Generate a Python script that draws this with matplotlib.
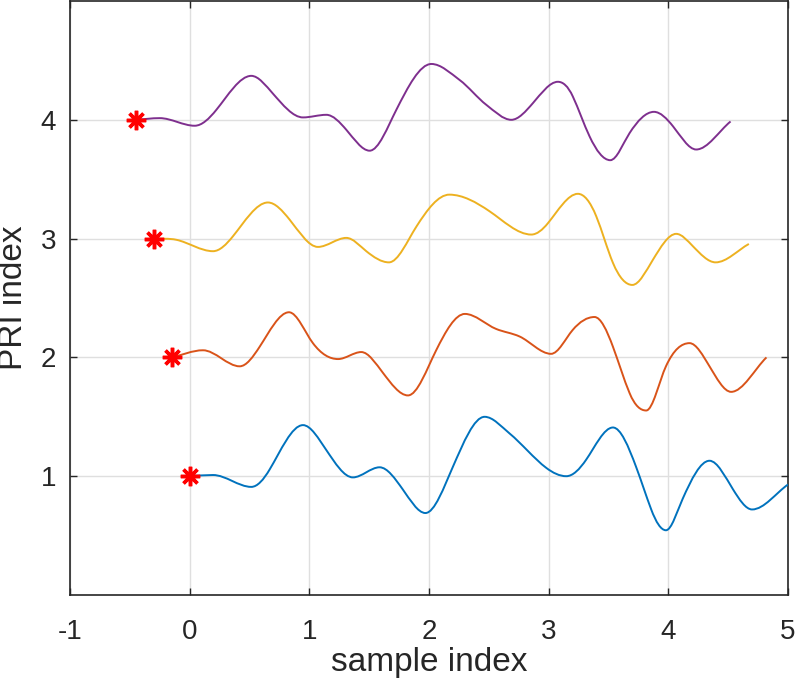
import numpy as np
import matplotlib
matplotlib.use('Agg')
import matplotlib.pyplot as plt
from matplotlib.path import Path
from matplotlib.patches import PathPatch

# Curve samples (sample index, PRI index)
blue_x = [0.0, 0.195, 0.515, 0.668, 0.947, 1.142, 1.364, 1.587, 1.78, 1.97, 2.2, 2.465, 2.673,
          2.98, 3.147, 3.314, 3.537, 3.73, 3.857, 3.98, 4.12, 4.344, 4.54, 4.70, 5.0]
blue_y = [1.0, 1.01, 0.91, 1.056, 1.43, 1.22, 0.99, 1.075, 0.89, 0.69, 1.08, 1.50, 1.36,
          1.07, 1.0, 1.14, 1.41, 1.08, 0.72, 0.545, 0.81, 1.13, 0.89, 0.72, 0.93]

orange_x = [-0.15, 0.111, 0.418, 0.585, 0.83, 1.03, 1.24, 1.434, 1.615, 1.824, 2.06, 2.30, 2.56,
            2.757, 3.02, 3.2, 3.383, 3.537, 3.676, 3.815, 3.98, 4.177, 4.344, 4.525, 4.82]
orange_y = [2.0, 2.06, 1.925, 2.09, 2.38, 2.12, 1.986, 2.045, 1.87, 1.68, 2.06, 2.366, 2.24,
            2.176, 2.03, 2.23, 2.34, 2.09, 1.70, 1.553, 1.925, 2.12, 1.925, 1.71, 2.0]

yellow_x = [-0.30, -0.111, 0.195, 0.362, 0.654, 0.835, 1.072, 1.309, 1.476, 1.665, 1.894, 2.17,
            2.506, 2.855, 2.994, 3.244, 3.398, 3.537, 3.699, 3.87, 4.066, 4.205, 4.395, 4.673]
yellow_y = [3.0, 2.99, 2.894, 3.02, 3.304, 3.16, 2.93, 3.006, 2.894, 2.80, 3.10, 3.37,
            3.23, 3.034, 3.13, 3.377, 3.187, 2.796, 2.61, 2.82, 3.04, 2.936, 2.80, 2.955]

purple_x = [-0.45, -0.25, 0.042, 0.223, 0.515, 0.696, 0.947, 1.142, 1.309, 1.504, 1.727, 2.02,
            2.256, 2.479, 2.688, 2.868, 3.077, 3.202, 3.342, 3.515, 3.676, 3.88, 4.04, 4.233, 4.52]
purple_y = [4.0, 4.014, 3.95, 4.084, 4.37, 4.22, 4.02, 4.042, 3.916, 3.74, 4.084, 4.47,
            4.335, 4.126, 4.0, 4.14, 4.32, 4.196, 3.86, 3.66, 3.888, 4.067, 3.944, 3.75, 3.986]

xticks = [-1, 0, 1, 2, 3, 4, 5]
yticks = [1, 2, 3, 4]

series = [(blue_x, blue_y, '#0072BD'),
          (orange_x, orange_y, '#D95319'),
          (yellow_x, yellow_y, '#EDB120'),
          (purple_x, purple_y, '#7E2F8E')]


def smooth_path(xs, ys):
    # cubic Bezier path through the read points
    xs = np.asarray(xs, float)
    ys = np.asarray(ys, float)
    n = len(xs)
    d = np.diff(ys) / np.diff(xs)
    ext = np.zeros(n, bool)
    ext[1:-1] = d[:-1] * d[1:] <= 0
    m = np.zeros(n)
    m[0], m[-1] = d[0], d[-1]
    for i in range(1, n - 1):
        if ext[i]:
            m[i] = 0
            continue
        m[i] = (ys[i + 1] - ys[i - 1]) / (xs[i + 1] - xs[i - 1])
        # points on the steep flanks: chord slope is too shallow
        if ext[i - 1] and ext[i + 1]:
            m[i] *= 1.4
        elif (ext[i - 1] or ext[i + 1]) and abs(m[i]) > 1.5:
            m[i] *= 1.25
    verts = [(xs[0], ys[0])]
    codes = [Path.MOVETO]
    for i in range(n - 1):
        h = xs[i + 1] - xs[i]
        verts += [(xs[i] + h / 3, ys[i] + m[i] * h / 3),
                  (xs[i + 1] - h / 3, ys[i + 1] - m[i + 1] * h / 3),
                  (xs[i + 1], ys[i + 1])]
        codes += [Path.CURVE4] * 3
    return Path(verts, codes)


plt.rcParams['font.family'] = ['Liberation Sans', 'DejaVu Sans']

fig = plt.figure(figsize=(7.97, 6.93), dpi=100)
ax = fig.add_axes([70 / 797, 1 - 595 / 693, 718 / 797, 594 / 693])

for xs, ys, col in series:
    ax.add_patch(PathPatch(smooth_path(xs, ys), fill=False, edgecolor=col, lw=1.4, zorder=3))

# red asterisks at the start of each curve
ax.plot([s[0][0] for s in series], [s[1][0] for s in series], linestyle='none',
        marker=(8, 2, 0), markersize=14, markeredgewidth=2.5, color='red', zorder=4)

ax.set_xlim(-1, 5)
ax.set_ylim(0, 5)
ax.set_xticks(xticks)
ax.set_yticks(yticks)
ax.set_xticklabels([str(t) for t in xticks])
ax.grid(True, color='#dfdfdf', lw=1.0)
ax.set_axisbelow(True)

ax.tick_params(direction='in', top=True, right=True, length=5, width=1.0,
               labelsize=20, colors='#262626')
ax.tick_params(axis='x', pad=17)
ax.tick_params(axis='y', pad=10)
for sp in ax.spines.values():
    sp.set_color('#262626')
    sp.set_linewidth(1.2)

ax.set_xlabel('sample index', fontsize=24, color='#262626', labelpad=2)
ax.set_ylabel('PRI index', fontsize=24, color='#262626', labelpad=8)

fig.savefig('out.png', dpi=100)
